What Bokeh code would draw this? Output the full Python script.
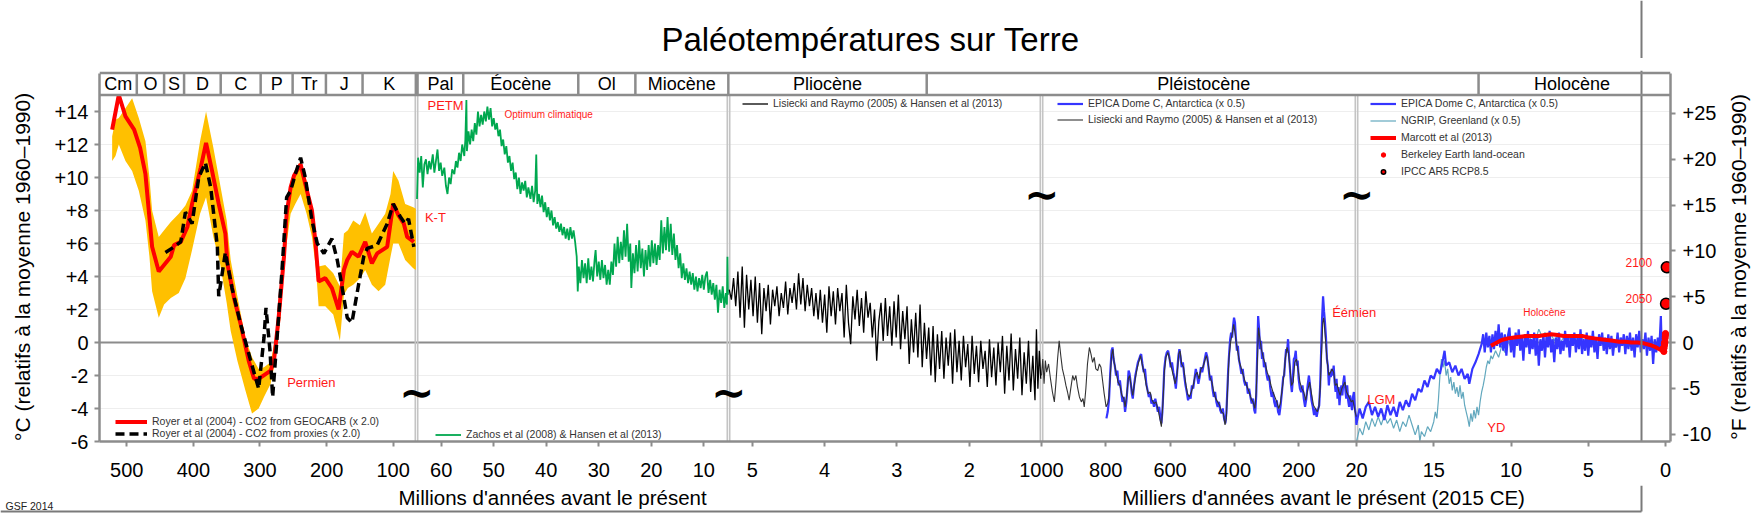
import math
from bokeh.plotting import figure
from bokeh.layouts import column, row
from bokeh.models import Range1d, LinearAxis, FixedTicker, Span, Legend, LegendItem
from bokeh.core.properties import value
from bokeh.embed import file_html
from bokeh.resources import INLINE

FONT = "Liberation Sans"
TITLE = "Paléotempératures sur Terre"
Y_LABEL_C = "°C (relatifs à la moyenne 1960–1990)"
Y_LABEL_F = "°F (relatifs à la moyenne 1960–1990)"
X_LABEL_MA = "Millions d'années avant le présent"
X_LABEL_KA = "Milliers d'années avant le présent (2015 CE)"
CREDIT = "GSF 2014"

# ------------------------------------------------------------------ data
# Panel 1 : Phanerozoic (Ma, degC)
ROYER_GEOCARB = [(522, 12.9), (512, 15.0), (502, 13.7), (489, 12.9), (480, 11.8), (472, 10.2), (462, 5.8),
                 (452, 4.3), (434, 5.2), (429, 5.9), (419, 6.1), (409, 7.0), (402, 8.4), (389, 10.6), (381, 12.1),
                 (372, 10.4), (362, 8.4), (352, 6.6), (349, 4.8), (339, 2.7), (329, 1.1), (317, -1.1), (309, -2.2),
                 (302, -2.2), (284, -1.7), (279, -1.1), (272, 1.5), (264, 5.2), (260, 7.8), (254, 9.4), (249, 10.1),
                 (239, 10.8), (232, 9.6), (222, 8.0), (217, 6.2), (212, 3.7), (202, 3.9), (192, 3.3), (182, 2.0),
                 (174, 4.4), (169, 5.0), (162, 5.5), (152, 5.2), (142, 6.1), (132, 4.8), (124, 5.4), (109, 5.8),
                 (100, 8.4), (92, 7.7), (84, 7.2), (79, 6.4), (69, 6.1)]
ROYER_PROXY = [(442, 5.45), (429, 5.8), (419, 6.1), (412, 7.9), (402, 7.2), (392, 10.0), (382, 10.9), (374, 9.4),
               (364, 5.8), (362, 2.8), (352, 5.45), (342, 3.3), (329, 1.1), (314, -1.1), (302, -2.8), (294, 0.3),
               (291, 2.1), (285, -0.5), (281, -3.3), (274, 0.5), (267, 4.35), (260, 8.8), (254, 9.2), (247, 10.2),
               (239, 11.2), (232, 10.0), (222, 7.4), (214, 6.0), (204, 5.4), (192, 6.3), (184, 5.0), (179, 3.9),
               (169, 1.5), (162, 1.2), (152, 3.5), (144, 5.25), (139, 5.7), (124, 5.9), (109, 7.2), (100, 8.4),
               (89, 7.6), (82, 7.2), (77, 7.5), (69, 5.8)]
ROYER_BAND = [(522, 11.0, 12.5), (517, 11.3, 13.5), (512, 12.0, 13.6), (502, 11.0, 14.2), (492, 10.4, 14.8),
              (482, 9.2, 13.6), (472, 7.4, 12.2), (466, 5.2, 10.0), (462, 3.1, 8.0), (452, 1.5, 6.4),
              (444, 2.3, 6.8), (434, 2.7, 7.3), (422, 3.0, 7.8), (412, 3.9, 8.3), (402, 5.6, 9.2), (390, 7.8, 12.2),
              (381, 8.8, 14.0), (370, 6.4, 11.8), (360, 4.8, 9.6), (350, 2.4, 7.4), (344, 0.7, 5.0),
              (334, -1.1, 2.8), (322, -2.9, 0.3), (312, -4.3, -0.9), (302, -4.0, -1.6), (294, -3.3, -1.5),
              (284, -2.5, -1.2), (277, -1.1, 0.3), (270, 1.2, 3.4), (262, 5.4, 7.4), (254, 7.8, 9.8),
              (247, 8.4, 10.4), (239, 9.0, 11.0), (230, 7.8, 9.8), (222, 6.4, 7.6), (216, 4.5, 6.0),
              (212, 2.2, 4.6), (202, 2.2, 4.7), (190, 1.7, 4.2), (180, 0.1, 3.4), (174, 2.9, 6.6), (168, 3.3, 6.8),
              (160, 3.5, 7.4), (150, 3.9, 7.1), (142, 4.4, 7.9), (132, 3.5, 6.6), (122, 3.1, 7.2), (112, 3.5, 7.8),
              (104, 5.2, 9.0), (100, 6.0, 10.4), (92, 6.0, 9.8), (82, 5.0, 8.4), (70, 4.5, 8.2), (66, 4.4, 8.1)]

# Panel 2 : Cenozoic (Ma, degC)
ZACHOS = [(64.6, 8.7), (64.4, 11.2), (64.1, 10.3), (63.8, 11.3), (63.5, 9.4), (63.2, 10.8), (62.9, 11.1),
          (62.6, 10.2), (62.3, 11.0), (62.0, 10.5), (61.6, 11.4), (61.3, 10.3), (61.0, 11.0), (60.7, 11.7),
          (60.4, 10.4), (60.1, 10.9), (59.8, 10.1), (59.4, 10.6), (59.1, 9.5), (58.8, 9.0), (58.5, 10.0),
          (58.2, 9.6), (57.9, 10.5), (57.5, 10.2), (57.2, 11.0), (56.9, 10.6), (56.6, 11.5), (56.3, 11.0),
          (56.0, 12.0), (55.6, 11.3), (55.4, 12.3), (55.2, 14.7), (55.1, 11.6), (54.8, 12.8), (54.5, 12.0),
          (54.2, 12.9), (53.9, 12.2), (53.6, 13.3), (53.3, 12.6), (53.0, 14.0), (52.7, 13.1), (52.4, 13.8),
          (52.1, 13.2), (51.8, 14.0), (51.5, 13.4), (51.2, 14.3), (50.9, 13.5), (50.6, 14.2), (50.3, 13.1),
          (50.0, 13.6), (49.7, 12.9), (49.4, 13.3), (49.1, 12.5), (48.8, 12.9), (48.5, 11.9), (48.2, 12.3),
          (47.9, 11.4), (47.6, 11.9), (47.3, 10.9), (47.0, 11.3), (46.7, 10.4), (46.4, 10.9), (46.1, 9.9),
          (45.8, 10.3), (45.5, 9.3), (45.2, 10.0), (44.9, 9.0), (44.6, 9.7), (44.3, 9.2), (44.0, 9.8),
          (43.7, 8.8), (43.4, 9.4), (43.0, 8.7), (42.7, 9.5), (42.4, 8.5), (42.1, 9.2), (41.9, 11.4),
          (41.7, 8.4), (41.4, 9.0), (41.1, 8.2), (40.8, 8.9), (40.5, 7.9), (40.2, 8.5), (39.9, 7.6), (39.6, 8.2),
          (39.3, 7.4), (39.0, 8.0), (38.7, 7.1), (38.4, 7.6), (38.1, 6.9), (37.8, 7.3), (37.5, 6.7), (37.2, 7.2),
          (36.9, 6.5), (36.6, 7.0), (36.3, 6.3), (36.0, 6.9), (35.7, 6.2), (35.4, 7.0), (35.1, 6.3), (34.8, 6.8),
          (34.5, 6.1), (34.2, 5.2), (34.0, 3.1), (33.8, 4.6), (33.5, 3.6), (33.2, 5.0), (32.9, 3.9), (32.6, 4.8),
          (32.3, 3.6), (32.0, 5.1), (31.7, 3.8), (31.4, 4.6), (31.1, 3.7), (30.8, 5.0), (30.6, 5.6), (30.3, 4.0),
          (30.0, 4.9), (29.7, 3.8), (29.4, 5.0), (29.1, 3.9), (28.8, 4.7), (28.5, 3.5), (28.2, 4.4), (27.9, 3.5),
          (27.6, 4.9), (27.3, 4.1), (27.0, 6.0), (26.7, 4.6), (26.4, 6.4), (26.1, 4.8), (25.8, 6.1), (25.5, 5.0),
          (25.2, 6.8), (24.9, 5.2), (24.6, 7.2), (24.3, 4.9), (24.0, 6.0), (23.8, 3.3), (23.5, 5.4), (23.2, 4.2),
          (22.9, 5.9), (22.6, 4.3), (22.3, 6.2), (22.0, 4.5), (21.7, 5.7), (21.4, 4.0), (21.1, 5.6), (20.8, 4.4),
          (20.5, 5.9), (20.2, 4.6), (19.9, 6.2), (19.6, 4.8), (19.3, 6.0), (19.0, 4.7), (18.7, 5.9), (18.4, 5.0),
          (18.1, 7.4), (17.8, 5.4), (17.5, 7.0), (17.2, 5.6), (16.9, 7.6), (16.6, 5.5), (16.3, 7.2), (16.0, 5.3),
          (15.7, 6.6), (15.4, 5.0), (15.1, 5.9), (14.8, 4.5), (14.5, 5.4), (14.2, 3.9), (13.9, 4.8), (13.6, 3.8),
          (13.3, 4.5), (13.0, 3.6), (12.7, 4.3), (12.4, 3.5), (12.1, 4.2), (11.8, 3.2), (11.5, 4.0), (11.2, 3.1),
          (10.9, 3.9), (10.6, 3.3), (10.3, 4.1), (10.0, 3.2), (9.7, 4.0), (9.4, 4.3), (9.1, 3.0), (8.8, 3.8),
          (8.5, 2.9), (8.2, 3.6), (7.9, 2.6), (7.6, 3.5), (7.3, 1.8), (7.0, 3.2), (6.7, 2.4), (6.4, 3.4),
          (6.1, 2.1), (5.8, 3.0), (5.6, 2.3), (5.5, 5.2), (5.4, 2.9)]

# Panel 3 : Pliocene - early Pleistocene (Ma, degC)
LR_PLIO = [(5.32, 3.2), (5.29, 2.6), (5.26, 3.9), (5.23, 2.2), (5.20, 4.3), (5.17, 1.5), (5.14, 4.6), (5.11, 0.9),
           (5.08, 4.1), (5.05, 2.0), (5.02, 3.8), (4.99, 1.6), (4.96, 4.0), (4.93, 1.2), (4.90, 3.6), (4.87, 0.5),
           (4.84, 3.3), (4.81, 1.9), (4.78, 3.5), (4.75, 1.1), (4.72, 3.2), (4.69, 2.2), (4.66, 3.4), (4.63, 1.6),
           (4.60, 3.0), (4.57, 2.1), (4.54, 3.7), (4.51, 1.7), (4.48, 3.3), (4.45, 2.4), (4.42, 3.6), (4.39, 2.0),
           (4.36, 4.2), (4.33, 2.3), (4.30, 3.9), (4.27, 1.9), (4.24, 3.5), (4.21, 2.2), (4.18, 3.3), (4.15, 1.6),
           (4.12, 3.0), (4.09, 1.4), (4.06, 3.2), (4.03, 1.2), (4.00, 2.9), (3.97, 0.6), (3.94, 3.4), (3.91, 1.6),
           (3.88, 3.1), (3.85, 1.1), (3.82, 3.3), (3.79, 1.9), (3.76, 3.0), (3.73, 0.3), (3.70, 3.5), (3.67, 1.2),
           (3.64, -0.1), (3.61, 2.8), (3.58, 1.4), (3.55, 3.2), (3.52, 1.0), (3.49, 2.7), (3.46, 0.6), (3.43, 3.1),
           (3.40, 1.5), (3.37, 2.4), (3.34, 0.3), (3.31, 2.0), (3.28, -1.1), (3.25, 1.3), (3.22, 2.4), (3.19, 0.1),
           (3.16, 2.7), (3.13, 0.4), (3.10, 2.2), (3.07, -0.2), (3.04, 2.5), (3.01, 0.3), (2.98, 2.9), (2.95, -0.4),
           (2.92, 1.9), (2.89, 0.2), (2.86, 2.2), (2.83, -1.3), (2.80, 1.4), (2.77, -0.6), (2.74, 1.8), (2.71, -0.9),
           (2.68, 2.3), (2.65, -1.5), (2.62, 1.2), (2.59, -1.0), (2.56, 0.9), (2.53, -2.0), (2.50, 1.0), (2.47, -2.4),
           (2.44, 0.5), (2.41, -1.6), (2.38, 0.7), (2.35, -2.2), (2.32, 0.3), (2.29, -1.4), (2.26, 0.6), (2.23, -2.5),
           (2.20, 0.8), (2.17, -1.8), (2.14, 0.1), (2.11, -2.3), (2.08, 0.4), (2.05, -1.5), (2.02, -0.1), (1.99, -2.7),
           (1.96, 0.4), (1.93, -1.9), (1.90, -0.2), (1.87, -2.4), (1.84, 0.1), (1.81, -1.6), (1.78, -0.5), (1.75, -2.7),
           (1.72, 0.2), (1.69, -2.1), (1.66, -0.3), (1.63, -2.6), (1.60, 0.0), (1.57, -1.8), (1.54, 0.4), (1.51, -3.1),
           (1.48, -0.2), (1.45, -2.3), (1.42, 0.55), (1.39, -2.9), (1.36, -0.4), (1.33, -2.2), (1.30, 0.3), (1.27, -3.2),
           (1.24, -0.6), (1.21, -2.5), (1.18, 0.1), (1.15, -3.0), (1.12, -0.8), (1.09, -3.5), (1.07, 0.8), (1.05, -2.8),
           (1.03, -0.5), (1.01, -2.2)]

# Panel 4 : 1000 - 20 ka (ka, degC)
LR_PLEIST = [(1000, -2.0), (996, -1.0), (992, -2.5), (988, -1.1), (984, -1.8), (978, -1.3), (972, -2.2), (966, -3.0),
             (960, -3.6), (955, -2.4), (950, -1.0), (945, 0.1), (940, -0.8), (935, -1.6), (929, -2.1), (924, -2.6),
             (919, -3.0), (914, -3.5), (909, -2.8), (903, -2.0), (898, -2.3), (893, -2.0), (888, -2.7), (882, -3.3),
             (876, -3.6), (871, -3.4), (867, -3.9), (862, -2.8), (857, -1.3), (851, -0.3), (846, -0.7), (841, -1.2),
             (836, -0.9), (831, -1.6), (825, -1.7), (820, -1.3), (815, -1.5), (810, -2.3), (805, -3.1), (799, -3.9),
             (794, -3.7), (790, -3.2), (786, -2.0), (782, -0.8), (778, -0.4), (774, -1.2), (768, -1.8), (762, -2.4),
             (756, -2.6), (750, -3.2), (744, -3.4), (740, -3.9), (735, -3.2), (730, -2.2), (726, -2.0), (720, -2.8),
             (716, -3.2), (710, -2.4), (704, -1.7), (698, -1.2), (692, -0.8), (686, -1.4), (680, -1.9), (674, -2.6),
             (668, -3.1), (662, -3.0), (656, -3.5), (650, -3.7), (644, -3.6), (638, -4.0), (632, -4.6), (627, -5.1),
             (622, -3.6), (618, -1.8), (613, -0.9), (607, -0.6), (602, -1.0), (596, -1.5), (590, -2.0), (584, -2.5),
             (578, -1.9), (573, -0.7), (569, -0.5), (564, -1.3), (558, -1.5), (552, -2.4), (546, -3.1), (540, -3.3),
             (534, -3.0), (528, -2.6), (522, -2.0), (516, -1.8), (510, -2.2), (504, -1.6), (498, -1.5), (492, -1.1),
             (487, -0.8), (482, -1.2), (476, -2.1), (470, -2.4), (464, -3.0), (458, -3.4), (452, -3.6), (446, -3.8),
             (440, -4.2), (434, -4.3), (429, -5.0), (425, -4.6), (421, -2.8), (417, -1.0), (412, 0.0), (407, 0.5),
             (402, 1.1), (398, 0.6), (394, 0.0), (389, -0.6), (384, -1.2), (378, -1.6), (372, -2.0), (366, -2.4),
             (360, -2.7), (354, -3.0), (348, -3.4), (342, -3.6), (336, -4.0), (332, -3.0), (328, -0.9), (325, 0.9),
             (321, 0.3), (316, -0.4), (310, -0.9), (304, -1.3), (298, -1.8), (292, -2.1), (286, -2.6), (280, -3.0),
             (274, -3.3), (268, -3.6), (262, -4.0), (257, -3.7), (251, -2.8), (246, -2.0), (241, -0.9), (236, -0.3),
             (232, -0.6), (227, -1.5), (222, -2.6), (217, -2.4), (212, -1.2), (207, -1.0), (202, -1.6), (196, -2.4),
             (190, -2.8), (184, -3.0), (178, -3.5), (172, -2.9), (166, -2.4), (160, -3.1), (154, -3.8), (148, -4.0),
             (142, -4.2), (137, -3.9), (133, -2.8), (129, -0.8), (125, 1.2), (122, 1.5), (119, 0.8), (115, -0.2),
             (111, -1.2), (106, -2.0), (101, -1.8), (96, -1.6), (91, -1.8), (86, -2.6), (81, -2.5), (76, -2.9),
             (71, -3.2), (66, -2.8), (61, -2.6), (56, -2.4), (51, -3.0), (46, -3.2), (41, -3.4), (36, -3.6),
             (31, -3.5), (26, -4.0), (21, -4.5)]
EPICA_PLEIST = [(798, -4.6), (794, -4.2), (790, -3.5), (786, -1.8), (782, -0.5), (779, -0.3), (776, -1.0), (772, -1.4),
                (768, -2.0), (764, -1.7), (760, -2.6), (756, -2.3), (752, -3.0), (748, -3.6), (744, -3.3), (740, -4.2),
                (736, -3.6), (732, -2.6), (729, -1.7), (726, -1.9), (722, -2.5), (719, -3.1), (716, -3.4), (712, -2.6),
                (708, -2.0), (704, -1.6), (700, -1.2), (696, -1.0), (693, -0.8), (690, -0.7), (686, -1.3), (682, -1.8),
                (678, -1.6), (674, -2.5), (670, -2.9), (666, -3.3), (662, -3.1), (658, -3.7), (654, -3.5), (650, -3.9),
                (646, -3.4), (642, -3.8), (638, -4.2), (634, -3.9), (630, -4.6), (627, -4.9), (624, -4.2), (621, -3.0),
                (618, -1.6), (614, -0.9), (610, -0.6), (606, -0.5), (602, -0.9), (598, -1.5), (594, -1.2), (590, -1.8),
                (586, -2.2), (582, -2.8), (578, -1.8), (574, -0.8), (571, -0.4), (568, -0.8), (564, -1.5), (560, -1.2),
                (556, -2.0), (552, -2.6), (548, -3.0), (544, -3.5), (540, -3.2), (536, -3.4), (532, -2.6), (528, -2.8),
                (524, -2.2), (520, -1.6), (516, -2.0), (512, -2.5), (508, -2.1), (504, -1.5), (500, -1.8), (496, -1.4),
                (492, -1.0), (488, -0.6), (484, -0.9), (480, -1.6), (476, -2.3), (472, -2.0), (468, -2.8), (464, -3.3),
                (460, -3.0), (456, -3.6), (452, -3.9), (448, -3.6), (444, -4.1), (440, -4.3), (436, -4.0), (432, -4.6),
                (428, -4.9), (425, -4.3), (422, -3.0), (419, -1.6), (416, -0.6), (413, 0.2), (410, 0.6), (407, 0.3),
                (404, 1.0), (401, 1.5), (398, 1.2), (395, 0.2), (392, -0.5), (389, -0.2), (386, -1.0), (382, -1.4),
                (378, -1.9), (374, -1.6), (370, -2.3), (366, -2.6), (362, -2.4), (358, -3.1), (354, -2.8), (350, -3.3),
                (346, -3.7), (342, -3.4), (338, -4.1), (335, -4.3), (332, -3.2), (329, -0.8), (326, 1.6), (323, 0.8),
                (320, -0.4), (317, 0.1), (314, -1.0), (311, -0.6), (308, -1.5), (304, -1.2), (300, -1.9), (296, -2.3),
                (292, -2.0), (288, -2.8), (284, -3.3), (280, -3.0), (276, -3.6), (272, -3.9), (268, -3.5), (264, -4.2),
                (260, -4.4), (256, -3.8), (252, -3.0), (248, -2.1), (245, -2.0), (242, -1.1), (239, -0.4), (236, -0.6),
                (233, 0.2), (230, -0.8), (227, -1.6), (224, -2.5), (221, -3.0), (218, -2.2), (215, -1.0), (212, -0.9),
                (209, -0.5), (206, -1.4), (203, -1.1), (200, -2.2), (196, -2.8), (192, -3.0), (188, -2.6), (184, -3.4),
                (180, -3.9), (176, -3.4), (172, -2.6), (168, -2.0), (164, -2.7), (160, -3.5), (156, -3.9), (152, -4.4),
                (148, -4.0), (144, -4.5), (140, -4.1), (136, -3.8), (133, -2.6), (130, -0.5), (127, 1.5), (124, 2.8),
                (121, 1.9), (118, 1.2), (115, 0.3), (112, -1.0), (109, -1.4), (106, -2.6), (103, -1.8), (100, -2.1),
                (97, -1.6), (94, -2.0), (91, -1.4), (88, -2.4), (85, -3.0), (82, -2.2), (79, -3.4), (76, -2.7),
                (73, -3.8), (70, -3.0), (67, -2.6), (64, -3.2), (61, -2.4), (58, -2.0), (55, -2.8), (52, -3.4),
                (49, -2.6), (46, -3.5), (43, -3.9), (40, -3.2), (37, -3.6), (34, -4.1), (31, -3.3), (28, -3.0),
                (25, -4.0), (22, -4.4), (20, -5.0)]

# Panel 5 : 20 - 0 ka (ka, degC)
EPICA_HOLO = [(20.0, -4.9), (19.8, -4.0), (19.6, -4.6), (19.4, -3.9), (19.2, -3.6), (19.0, -4.4), (18.8, -3.9),
              (18.6, -4.5), (18.4, -4.0), (18.2, -4.7), (18.0, -3.8), (17.8, -4.4), (17.6, -3.9), (17.4, -4.5),
              (17.2, -3.6), (17.0, -4.1), (16.8, -3.5), (16.6, -3.9), (16.4, -3.1), (16.2, -3.5), (16.0, -2.8),
              (15.8, -3.0), (15.6, -2.3), (15.4, -2.7), (15.2, -2.0), (15.0, -2.2), (14.8, -1.6), (14.6, -1.9),
              (14.4, -1.0), (14.3, -0.5), (14.2, -1.4), (14.0, -1.2), (13.8, -1.8), (13.6, -1.4), (13.4, -2.0),
              (13.2, -1.6), (13.0, -2.2), (12.8, -1.9), (12.7, -2.5), (12.5, -1.6), (12.3, -1.2), (12.1, -0.7),
              (11.9, -0.1), (11.8, 0.5), (11.7, -0.6), (11.6, 0.6), (11.5, -0.3), (11.4, 0.4), (11.3, -0.6),
              (11.2, 0.5), (11.1, -0.4), (11.0, 0.7), (10.9, -0.2), (10.8, 1.1), (10.7, -0.3), (10.6, 0.6),
              (10.5, -0.5), (10.4, 0.5), (10.3, -0.8), (10.2, 0.4), (10.1, 0.9), (10.0, -0.6), (9.9, 0.3), (9.8, -0.9),
              (9.7, 0.6), (9.6, -0.2), (9.5, 0.8), (9.4, -0.5), (9.3, 0.4), (9.2, -1.1), (9.1, 0.5), (9.0, -0.3),
              (8.9, 0.7), (8.8, -0.7), (8.7, 0.2), (8.6, -0.4), (8.5, 0.6), (8.4, -0.8), (8.3, 0.3), (8.2, -1.4),
              (8.1, 0.2), (8.0, -0.5), (7.9, 0.5), (7.8, -0.9), (7.7, 0.4), (7.6, -0.3), (7.5, 0.7), (7.4, -0.6),
              (7.3, 0.2), (7.2, -1.2), (7.1, 0.3), (7.0, -0.4), (6.9, 0.6), (6.8, -0.7), (6.7, 0.1), (6.6, -0.5),
              (6.5, 0.7), (6.4, -0.3), (6.3, 0.4), (6.2, -0.9), (6.1, 0.5), (6.0, -0.2), (5.9, 0.6), (5.8, -0.6),
              (5.7, 0.3), (5.6, -0.4), (5.5, 0.8), (5.4, -0.7), (5.3, 0.2), (5.2, -0.5), (5.1, 0.6), (5.0, -0.8),
              (4.9, 0.4), (4.8, -0.3), (4.7, 0.7), (4.6, -0.6), (4.5, 0.2), (4.4, -1.0), (4.3, 0.5), (4.2, -0.2),
              (4.1, 0.6), (4.0, -0.5), (3.9, 0.3), (3.8, -0.7), (3.7, 0.5), (3.6, -0.4), (3.5, 0.4), (3.4, -0.8),
              (3.3, 0.1), (3.2, -0.3), (3.1, 0.6), (3.0, -0.6), (2.9, 0.3), (2.8, -0.2), (2.7, 0.5), (2.6, -0.7),
              (2.5, 0.4), (2.4, -0.4), (2.3, 0.6), (2.2, -0.5), (2.1, 0.3), (2.0, -0.9), (1.9, 0.5), (1.8, -0.3),
              (1.7, 0.7), (1.6, -0.6), (1.5, 0.2), (1.4, -0.4), (1.3, 0.6), (1.2, -0.8), (1.1, 0.3), (1.0, -0.5),
              (0.9, 0.4), (0.8, -1.3), (0.7, 0.2), (0.6, -0.6), (0.5, 0.3), (0.4, -0.4), (0.3, 1.6), (0.25, -0.2),
              (0.2, 0.1)]
NGRIP = [(20.0, -6.0), (19.8, -5.2), (19.6, -5.6), (19.4, -4.8), (19.2, -5.3), (19.0, -4.6), (18.8, -5.1),
         (18.6, -4.5), (18.4, -5.0), (18.2, -4.4), (18.0, -4.9), (17.8, -4.6), (17.6, -5.2), (17.4, -4.7),
         (17.2, -5.4), (17.0, -4.8), (16.8, -5.1), (16.6, -4.4), (16.4, -5.0), (16.2, -5.6), (16.0, -5.0),
         (15.9, -6.0), (15.8, -5.4), (15.6, -5.7), (15.4, -5.1), (15.2, -5.4), (15.0, -4.8), (14.9, -4.2),
         (14.8, -4.6), (14.7, -3.5), (14.6, -2.0), (14.5, -1.0), (14.4, -1.5), (14.3, -1.1), (14.2, -2.0),
         (14.1, -1.6), (14.0, -2.5), (13.9, -2.1), (13.8, -2.9), (13.7, -2.4), (13.6, -3.1), (13.5, -2.7),
         (13.4, -3.3), (13.3, -2.6), (13.2, -3.4), (13.1, -3.0), (13.0, -3.8), (12.9, -4.2), (12.8, -4.6),
         (12.7, -5.1), (12.6, -4.3), (12.5, -4.8), (12.4, -4.1), (12.3, -4.6), (12.2, -3.9), (12.1, -4.4),
         (12.0, -3.6), (11.9, -3.0), (11.8, -2.6), (11.7, -2.1), (11.6, -1.5), (11.5, -1.1), (11.4, -1.3),
         (11.3, -0.8), (11.2, -1.0), (11.0, -0.5), (10.8, -0.9), (10.6, -0.2), (10.4, -0.6), (10.2, 0.1),
         (10.0, -0.3), (9.8, 0.2), (9.6, -0.2), (9.4, 0.3), (9.2, -0.1), (9.0, 0.4), (8.8, 0.1), (8.6, 0.5),
         (8.4, 0.2), (8.2, 0.8), (8.0, 0.4), (7.8, 0.6), (7.6, 0.2), (7.4, 0.5), (7.2, 0.1), (7.0, 0.4),
         (6.8, 0.0), (6.6, 0.3), (6.4, -0.1), (6.2, 0.3), (6.0, 0.0), (5.8, 0.4), (5.6, 0.1), (5.4, 0.3),
         (5.2, -0.1), (5.0, 0.2), (4.8, 0.0), (4.6, 0.3), (4.4, -0.1), (4.2, 0.2), (4.0, -0.2), (3.8, 0.1),
         (3.6, -0.2), (3.4, 0.1), (3.2, -0.3), (3.0, 0.0), (2.8, -0.2), (2.6, 0.1), (2.4, -0.3), (2.2, 0.0),
         (2.0, -0.2), (1.8, 0.1), (1.6, -0.2), (1.4, 0.1), (1.2, -0.3), (1.0, 0.0), (0.8, -0.4), (0.6, -0.1),
         (0.4, -0.3), (0.2, 0.0)]
MARCOTT = [(11.3, -0.2), (11.0, -0.05), (10.6, 0.15), (10.2, 0.25), (9.8, 0.3), (9.4, 0.35), (9.0, 0.4), (8.6, 0.4),
           (8.2, 0.4), (7.8, 0.45), (7.4, 0.5), (7.0, 0.45), (6.6, 0.4), (6.2, 0.4), (5.8, 0.4), (5.4, 0.4),
           (5.0, 0.3), (4.6, 0.25), (4.2, 0.2), (3.8, 0.15), (3.4, 0.1), (3.0, 0.05), (2.6, 0.05), (2.2, 0.0),
           (1.8, 0.0), (1.4, -0.05), (1.0, -0.15), (0.6, -0.3), (0.3, -0.45), (0.15, -0.5)]
BERKELEY = [(1850, -0.45), (1860, -0.40), (1870, -0.35), (1880, -0.38), (1890, -0.45), (1900, -0.35), (1910, -0.55),
            (1920, -0.35), (1930, -0.25), (1940, -0.05), (1950, -0.15), (1960, -0.05), (1970, -0.02), (1980, 0.08),
            (1990, 0.25), (2000, 0.35), (2005, 0.45), (2010, 0.50), (2014, 0.55)]
IPCC = [(2050, 2.35), (2100, 4.56)]
PRESENT_YEAR = 2015

# geological time scale (label, start, end) per panel
PERIODS = {
    "p1": [("Cm", 541, 485), ("O", 485, 444), ("S", 444, 414), ("D", 414, 359), ("C", 359, 299), ("P", 299, 251),
           ("Tr", 251, 201), ("J", 201, 146), ("K", 146, 66)],
    "p2": [("Pal", 64.5, 55.8), ("Éocène", 55.8, 33.9), ("Ol", 33.9, 23.03), ("Miocène", 23.03, 5.33)],
    "p3": [("Pliocène", 5.33, 2.588)],
    "p5": [("Holocène", 12.1, 0.0)],
}
PERIOD_LINES = {"p1": [485, 444, 414, 359, 299, 251, 201, 146, 66], "p2": [64.5, 55.8, 33.9, 23.03, 5.33],
                "p3": [2.588], "p5": [12.1]}
PLEISTOCENE_LABEL = ("Pléistocène", 495)     # centred in panel 4 (ka)

X_TICKS = {"p1": [500, 400, 300, 200, 100], "p2": [60, 50, 40, 30, 20, 10], "p3": [5, 4, 3, 2],
           "p4": [1000, 800, 600, 400, 200, 20], "p5": [15, 10, 5, 0]}
Y_TICKS_C = [-6, -4, -2, 0, 2, 4, 6, 8, 10, 12, 14]
Y_TICKS_F = [-10, -5, 0, 5, 10, 15, 20, 25]

# ------------------------------------------------------------------ layout constants
PAGE_W, PAGE_H = 1760, 513
TOP_H, BOT_H = 58, 28
LEFT_W, RIGHT_W = 40, 38
MAIN_W, MAIN_H = PAGE_W - LEFT_W - RIGHT_W, PAGE_H - TOP_H - BOT_H
MB_L, MB_R, MB_T, MB_B = 59, 52, 12, 44
FRAME_W = MAIN_W - MB_L - MB_R
Y_LO, Y_HI = -6.0, 16.485
HDR_LO, HDR_HI = 15.0, 16.33
PANELS = [("p1", 541.0, 65.0, 0, 317), ("p2", 64.7, 5.3, 317, 629), ("p3", 5.33, 1.0, 629, 942),
          ("p4", 1000.0, 20.0, 942, 1257), ("p5", 20.0, 0.0, 1257, 1566)]
PANEL = {n: (a, b, q0, q1) for n, a, b, q0, q1 in PANELS}


def scale(n):
    a, b, q0, q1 = PANEL[n]
    return (q1 - q0) / (a - b)


def comp(n, v):
    a, b, q0, q1 = PANEL[n]
    return q0 + (a - v) * scale(n)


GREY = "#8c8c8c"
RED = "#ff1a1a"

p = figure(width=MAIN_W, height=MAIN_H, output_backend="svg", toolbar_location=None,
           x_range=Range1d(0, FRAME_W), y_range=Range1d(Y_LO, Y_HI),
           min_border_left=MB_L, min_border_right=MB_R, min_border_top=MB_T, min_border_bottom=MB_B)
p.title.visible = False
p.outline_line_color = None
p.background_fill_color = "white"
p.border_fill_color = "white"
p.extra_x_ranges = {n: Range1d(a + q0 / scale(n), b - (FRAME_W - q1) / scale(n)) for n, a, b, q0, q1 in PANELS}
p.extra_y_ranges = {"F": Range1d(Y_LO * 1.8, Y_HI * 1.8)}

# x axis : one axis, tick positions taken from each panel's scale
xt_pos, xt_lab = [], {}
for n, ticks in X_TICKS.items():
    for t in ticks:
        pos = round(comp(n, t), 3)
        if pos not in xt_lab:
            xt_pos.append(pos)
        xt_lab[pos] = str(t)
xa = p.xaxis[0]
xa.ticker = FixedTicker(ticks=xt_pos)
xa.major_label_overrides = xt_lab


def style_axis(ax, standoff):
    ax.axis_line_color = GREY
    ax.axis_line_width = 2.5
    ax.major_tick_line_color = GREY
    ax.major_tick_line_width = 2
    ax.major_tick_out = 5
    ax.major_tick_in = 0
    ax.minor_tick_line_color = None
    ax.major_label_text_font = FONT
    ax.major_label_text_font_size = "20px"
    ax.major_label_text_color = "black"
    ax.major_label_standoff = standoff


style_axis(xa, 16)

ya = p.yaxis[0]
ya.ticker = FixedTicker(ticks=Y_TICKS_C)
ya.major_label_overrides = {t: ("+%d" % t if t > 0 else "%d" % t) for t in Y_TICKS_C}
ya.bounds = (Y_LO, HDR_HI)
style_axis(ya, 6)

ra = LinearAxis(y_range_name="F", ticker=FixedTicker(ticks=Y_TICKS_F))
ra.major_label_overrides = {t: ("+%d" % t if t > 0 else "%d" % t) for t in Y_TICKS_F}
ra.bounds = (Y_LO * 1.8, HDR_HI * 1.8)
style_axis(ra, 7)
p.add_layout(ra, "right")

p.xgrid.visible = False
p.ygrid.ticker = FixedTicker(ticks=Y_TICKS_C)
p.ygrid.grid_line_color = "#eeeeee"
p.ygrid.grid_line_width = 1

p.add_layout(Span(location=0, dimension="width", line_color=GREY, line_width=2, level="underlay"))

# panel separators (double light-grey lines)
SEP_IN = 1.2
for n, a, b, q0, q1 in PANELS:
    xs = []
    if n != "p1":
        xs.append(a - SEP_IN / scale(n))
    if n != "p5":
        xs.append(b + SEP_IN / scale(n))
    p.segment(x0=xs, y0=[Y_LO] * len(xs), x1=xs, y1=[HDR_LO] * len(xs),
              line_color="#c4c4c4", line_width=1.6, x_range_name=n)


# ---------------------------------------------------------------- series
def xs_(rows):
    return [r[0] for r in rows]


def ys_(rows, i=1):
    return [r[i] for r in rows]


p.varea(x=xs_(ROYER_BAND), y1=ys_(ROYER_BAND, 1), y2=ys_(ROYER_BAND, 2), fill_color="#ffc000", x_range_name="p1")
r_geo = p.line(xs_(ROYER_GEOCARB), ys_(ROYER_GEOCARB), line_color="#ff0000", line_width=4, x_range_name="p1")
r_prox = p.line(xs_(ROYER_PROXY), ys_(ROYER_PROXY), line_color="black", line_width=3.5, line_dash="9 5",
                x_range_name="p1")
r_zach = p.line(xs_(ZACHOS), ys_(ZACHOS), line_color="#00a84f", line_width=1.8, x_range_name="p2")
r_lr3 = p.line(xs_(LR_PLIO), ys_(LR_PLIO), line_color="black", line_width=1.3, x_range_name="p3")
r_ep4 = p.line(xs_(EPICA_PLEIST), ys_(EPICA_PLEIST), line_color="#3535ff", line_width=2.2, x_range_name="p4")
r_lr4 = p.line(xs_(LR_PLEIST), ys_(LR_PLEIST), line_color="#333333", line_width=1.1, x_range_name="p4")
r_ng = p.line(xs_(NGRIP), ys_(NGRIP), line_color="#62a8be", line_width=1.2, x_range_name="p5")
r_ep5 = p.line(xs_(EPICA_HOLO), ys_(EPICA_HOLO), line_color="#3535ff", line_width=2.2, x_range_name="p5")
r_mar = p.line(xs_(MARCOTT), ys_(MARCOTT), line_color="#ff0000", line_width=4, x_range_name="p5")
r_be = p.scatter([(PRESENT_YEAR - y) / 1000 for y, _ in BERKELEY], ys_(BERKELEY), size=6, color="#ff0000",
                 x_range_name="p5")
r_ip = p.scatter([(PRESENT_YEAR - y) / 1000 for y, _ in IPCC], ys_(IPCC), size=11, fill_color="#ff0000",
                 line_color="black", line_width=1.5, x_range_name="p5")

# ---------------------------------------------------------------- header (geological periods)
p.add_layout(Span(location=HDR_LO, dimension="width", line_color=GREY, line_width=2.5))
p.add_layout(Span(location=HDR_HI, dimension="width", line_color=GREY, line_width=2.5))
for n, bnds in PERIOD_LINES.items():
    p.segment(x0=bnds, y0=[HDR_LO] * len(bnds), x1=bnds, y1=[HDR_HI] * len(bnds),
              line_color=GREY, line_width=2.5, x_range_name=n)
for n, rows in PERIODS.items():
    p.text(x=[(r[1] + r[2]) / 2 for r in rows], y=[(HDR_LO + HDR_HI) / 2] * len(rows), text=[r[0] for r in rows],
           text_font=value(FONT), text_font_size="18px", text_align="center", text_baseline="middle",
           text_color="black", x_range_name=n)
p.text(x=[PLEISTOCENE_LABEL[1]], y=[(HDR_LO + HDR_HI) / 2], text=[PLEISTOCENE_LABEL[0]], text_font=value(FONT),
       text_font_size="18px", text_align="center", text_baseline="middle", text_color="black", x_range_name="p4")
# long grey rule near the present
p.segment(x0=[1.553], y0=[Y_LO], x1=[1.553], y1=[Y_HI], line_color="#7a7a7a", line_width=2, x_range_name="p5")

# break marks between panels
for n, yv in [("p2", -3.0), ("p3", -3.0), ("p4", 9.0), ("p5", 9.0)]:
    p.text(x=[PANEL[n][0]], y=[yv], text=["∼"], text_font=value("DejaVu Sans"), text_font_size="42px",
           text_font_style="bold", text_align="center", text_baseline="middle", text_color="black",
           x_range_name=n)


# ---------------------------------------------------------------- red annotations
def red(n, x, y, t, size="13px", align="left"):
    p.text(x=[x], y=[y], text=[t], text_font=value(FONT), text_font_size=size, text_color=RED,
           text_align=align, text_baseline="middle", x_range_name=n)


red("p2", 62.6, 14.36, "PETM")
red("p2", 63.1, 7.55, "K-T")
red("p2", 47.95, 13.8, "Optimum climatique", "10px")
red("p1", 259.2, -2.41, "Permien")
red("p4", 95.6, 1.79, "Éémien")
red("p5", 19.31, -3.44, "LGM")
red("p5", 11.54, -5.13, "YD")
red("p5", 9.21, 1.79, "Holocène", "10px")
red("p5", 0.861, 4.85, "2100", "12px", "right")
red("p5", 0.861, 2.65, "2050", "12px", "right")


# ---------------------------------------------------------------- legends
def legend(items, loc, gw, spacing):
    lg = Legend(items=[LegendItem(label=t, renderers=[r]) for t, r in items], location=loc,
                glyph_width=gw, glyph_height=11, label_height=11, label_standoff=5, spacing=spacing,
                padding=0, margin=0, background_fill_alpha=0, border_line_alpha=0,
                label_text_font=FONT, label_text_font_size="10.5px", label_text_color="#333333")
    p.add_layout(lg)


legend([("Royer et al (2004) - CO2 from GEOCARB (x 2.0)", r_geo),
        ("Royer et al (2004) - CO2 from proxies (x 2.0)", r_prox)], (16, 2), 32, -4)
legend([("Zachos et al (2008) & Hansen et al (2013)", r_zach)], (336, 1), 26, 0)
legend([("Lisiecki and Raymo (2005) & Hansen et al (2013)", r_lr3)], (643, 332), 26, 0)
legend([("EPICA Dome C, Antarctica (x 0.5)", r_ep4),
        ("Lisiecki and Raymo (2005) & Hansen et al (2013)", r_lr4)], (958, 316), 26, 4)
legend([("EPICA Dome C, Antarctica (x 0.5)", r_ep5), ("NGRIP, Greenland (x 0.5)", r_ng),
        ("Marcott et al (2013)", r_mar), ("Berkeley Earth land-ocean", r_be), ("IPCC AR5 RCP8.5", r_ip)],
       (1271, 264), 26, 5)


# ---------------------------------------------------------------- text strips around the plot
def strip(w, h):
    f = figure(width=w, height=h, output_backend="svg", toolbar_location=None,
               x_range=Range1d(0, w), y_range=Range1d(0, h), min_border=0,
               x_axis_location=None, y_axis_location=None)
    f.grid.visible = False
    f.outline_line_color = None
    f.title.visible = False
    f.background_fill_color = "white"
    f.border_fill_color = "white"
    return f


def strip_text(f, x, y, t, size, align="left", angle=0.0, color="black"):
    f.text(x=[x], y=[y], text=[t], angle=angle, text_font=value(FONT), text_font_size=size, text_color=color,
           text_align=align, text_baseline="middle")


top = strip(PAGE_W, TOP_H)
strip_text(top, 870, 19.4, TITLE, "33px", "center")
top.segment(x0=[1641], y0=[0], x1=[1641], y1=[TOP_H], line_color="#7a7a7a", line_width=2)

left = strip(LEFT_W, MAIN_H)
strip_text(left, 22.4, 201, Y_LABEL_C, "21px", "center", math.pi / 2)
right = strip(RIGHT_W, MAIN_H)
strip_text(right, 15.6, 201, Y_LABEL_F, "21px", "center", math.pi / 2)

bottom = strip(PAGE_W, BOT_H)
strip_text(bottom, 398, 16.3, X_LABEL_MA, "20.5px")
strip_text(bottom, 1121.7, 16.3, X_LABEL_KA, "20.5px")
strip_text(bottom, 5, 7.6, CREDIT, "10.5px", color="#222222")
bottom.segment(x0=[0, 1641], y0=[2, 2], x1=[1641, 1641], y1=[2, BOT_H], line_color="#7a7a7a", line_width=2)

layout = column(top, row(left, p, right), bottom)
open("out.html", "w").write(file_html(layout, INLINE))
